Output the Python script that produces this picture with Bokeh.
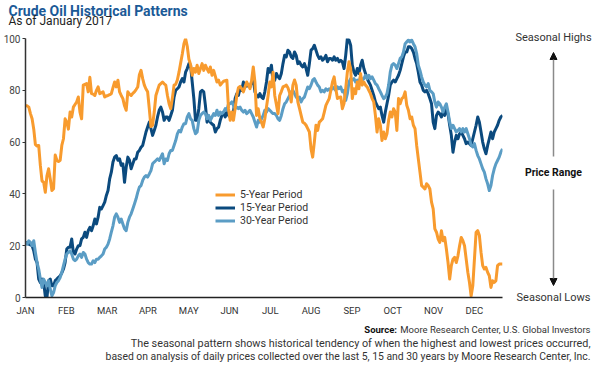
from bokeh.plotting import figure
from bokeh.models import (Range1d, Arrow, NormalHead, Legend, LegendItem,
                          FixedTicker)
from bokeh.layouts import column, row
from bokeh.core.properties import value
from bokeh.embed import file_html
from bokeh.resources import INLINE

# ---------------- data ----------------
month_labels = ["JAN", "FEB", "MAR", "APR", "MAY", "JUN",
                "JUL", "AUG", "SEP", "OCT", "NOV", "DEC"]
month_positions = list(range(12))          # month starts, in months
y_ticks = [0, 20, 40, 60, 80, 100]
SAMPLE_STEP = 5 / 123.6                     # months between two readings

five_year = [
    74, 74, 73.5, 71, 69, 65, 59, 58.5, 58.7, 51,
    45, 44.5, 40.6, 47, 49.7, 45.8, 41.3, 42, 55, 53,
    52.5, 53, 58.7, 61.3, 69, 67.7, 65, 71.6, 69.7, 73.5,
    74.5, 75.5, 77.4, 71.6, 69, 82, 82.3, 82.6, 79.4, 85,
    78.7, 78.5, 78, 80, 81.3, 78.7, 79, 79.4, 77.4, 77.8,
    78, 78.3, 78.7, 81, 83.2, 81.3, 83.9, 79.4, 78, 76.8,
    74, 72.3, 79.4, 78.5, 78, 78.8, 79.4, 80.3, 81.3, 86,
    87.7, 84.5, 82, 80.5, 79.4, 72.9, 66, 66.5, 71.6, 78,
    80, 82, 82.6, 83.2, 82.5, 82, 78, 74.8, 72.9, 77,
    82, 82.3, 84, 87, 90.5, 94, 98, 100, 97, 92,
    90, 85.8, 88.4, 87, 89.7, 86.5, 88.4, 90.3, 87.7, 89.7,
    88.3, 87, 89, 85.8, 87.7, 85.5, 83.2, 83.9, 82, 82.8,
    83.5, 83.7, 83.9, 72.9, 68.4, 71.6, 68.4, 73, 78, 81,
    81.5, 80.6, 79.4, 81.3, 83.2, 82, 80.6, 83.9, 89, 83.2,
    70.3, 72.9, 69, 67.7, 65.8, 69, 73.5, 78, 83.2, 81.3,
    87, 78, 74.5, 71, 78, 79.5, 81.3, 81.6, 82, 81,
    79, 75.5, 82, 84, 82, 75.5, 73, 70.3, 67.7, 67.3,
    66.5, 65.2, 63.9, 57.4, 54.2, 60, 66.5, 64.5, 67.7, 68.3,
    69, 71.5, 74.2, 75.5, 76.8, 80, 83.2, 85.2, 80.6, 76.8,
    77.2, 77.4, 72.9, 75, 80.6, 87, 91, 88.4, 76.8, 80.6,
    78.7, 83.2, 80.6, 86.5, 82, 83.2, 82, 81.3, 80, 78.7,
    76.8, 75.5, 70.3, 63.9, 69, 66.5, 60.6, 63.9, 61.3, 63.2,
    68.4, 71.6, 69.7, 72.9, 71.6, 64.5, 76.8, 74.8, 76.8, 77.4,
    79.4, 74.2, 72.3, 69, 69.7, 66.5, 65.2, 58.7, 53.5, 48.4,
    43.2, 42.6, 41.9, 43.9, 43.2, 41.9, 36.8, 34.2, 26.5, 25.2,
    22.6, 21.3, 25.8, 21.9, 23.2, 18.7, 13.5, 7.1, 12.3, 14.8,
    15.5, 13.5, 16.1, 20, 23.2, 21.9, 20, 14.8, 9.7, 5.8,
    0.6, 4.5, 14.8, 25.2, 25.8, 23.9, 17.4, 12.3, 11, 11.6,
    9.7, 8.4, 3.9, 6.5, 5.8, 6.5, 12.3, 12.9, 12.9, 12.9,
]

fifteen_year = [
    21.3, 21, 20.6, 20.3, 20, 18, 14.8, 13.5, 7.1, 5.8,
    7.1, 5.8, 0.6, 0, 6.5, 7.1, 4.5, 4.5, 6.5, 7.1,
    7.8, 8.4, 9.5, 11, 13.5, 18.7, 19.4, 19.4, 22.6, 17.4,
    16.8, 18.7, 20, 20, 22.6, 23.2, 25.2, 23.2, 25.8, 27.1,
    25.8, 27.7, 30.3, 28.4, 31, 34.8, 34.2, 35.5, 36.8, 39.4,
    41.3, 45.8, 48.4, 52.3, 54.2, 54.8, 53, 53.5, 51, 51.6,
    44.5, 50.3, 54.2, 53, 49.7, 51.6, 53.5, 53.5, 56.1, 56.8,
    58, 58.7, 61.3, 63.9, 65.8, 67.7, 65.2, 62.6, 64.5, 66.5,
    69.7, 72.3, 73.5, 71.6, 68.4, 69.7, 69.7, 68.4, 70.3, 72.3,
    77.4, 80, 80.6, 81.3, 83.2, 84.5, 83.2, 87, 88.4, 90.3,
    89.7, 83.2, 76.8, 68.4, 68.4, 72.9, 79.4, 80, 79.4, 74.2,
    67.7, 69, 67.7, 67, 66.5, 63.9, 65.2, 65.8, 68.4, 70.3,
    71.6, 69.7, 71.6, 70.3, 69.7, 70.5, 71.6, 76.8, 78.7, 78,
    80.6, 80, 83.2, 81.3, 82, 81.6, 81.3, 83.2, 84.5, 79.4,
    78, 77.4, 78.7, 77.4, 76.8, 79.4, 83.2, 88.4, 87, 89.7,
    83.2, 83.9, 86.5, 85.2, 84.5, 86.5, 90.3, 93.5, 92.9, 95.5,
    94.8, 92.9, 92.3, 94.8, 93.5, 90.3, 91, 89.7, 89, 90.3,
    88.4, 85.8, 90.3, 95.5, 96.1, 97.4, 95.5, 93.5, 92.3, 92.9,
    91.6, 92.3, 93.5, 91, 92.3, 92.3, 91.6, 92.9, 91.6, 92.3,
    91, 91.6, 91, 88.4, 93.5, 100, 99.4, 97.4, 89.7, 87,
    85.8, 88.4, 86.5, 89.7, 91.6, 88.4, 86.5, 84.5, 83.2, 82,
    80, 78, 75.5, 74.2, 72.9, 73.5, 70.3, 67.7, 71.6, 74.8,
    78, 82, 83.2, 83.9, 83.2, 84.5, 85.8, 87.7, 90.3, 92.9,
    94.8, 94.8, 96.8, 96.8, 96.1, 94.8, 92.3, 90.3, 87, 83.2,
    82, 80, 79.4, 80, 78.7, 76.8, 74.8, 67.7, 65.2, 70.3,
    71.6, 70.9, 69.7, 71.6, 70.3, 72.9, 70.9, 66.5, 62.6, 56.1,
    60, 62.6, 61.3, 63.2, 63.9, 62.6, 61.3, 59.4, 60, 59.4,
    58.7, 61.3, 63.9, 66.5, 69.7, 67.7, 63.9, 60, 57.4, 55.5,
    58.7, 61.3, 63.9, 61.3, 63.9, 65.2, 66.5, 68.4, 69.7, 70.3,
]

thirty_year = [
    21.3, 20.6, 21.9, 21.3, 20, 21.9, 17.4, 13.5, 11, 7.1,
    3.9, 7.1, 5.8, 4.5, 6.5, 3.2, 0.6, 1.9, 4.5, 5.8,
    6.5, 7.7, 9.7, 12.3, 14.8, 16.8, 17.4, 18, 16.8, 14.8,
    14.2, 14.8, 16.1, 16.8, 15.5, 17.4, 16.8, 14.8, 13.5, 12.9,
    12.9, 14.2, 13.5, 14.8, 14.8, 15.5, 16.1, 16.8, 18.7, 19.4,
    20.6, 22.6, 25.2, 27.7, 31, 32.3, 31, 29, 30.3, 28.4,
    26.5, 25.8, 29, 31, 32.3, 34.2, 36.1, 38.1, 40.6, 42.6,
    43.2, 45.2, 46.5, 47.1, 46.5, 47.7, 49, 51.6, 52.3, 52.9,
    53.5, 52.9, 54.2, 55.5, 51.6, 53.5, 52.9, 55.5, 56.8, 56.8,
    58.7, 60.6, 63.2, 64.5, 63.9, 65.8, 67.1, 67.1, 69.7, 71,
    69, 68.4, 65.2, 63.2, 63.9, 68.4, 70.3, 71, 71.6, 71,
    69, 70.3, 68.4, 69.7, 71, 70.3, 72.3, 70.3, 71.6, 71,
    71.6, 72.9, 72.3, 74.8, 74.8, 75.5, 74.2, 72.9, 73.5, 72.9,
    73.5, 72.3, 71.6, 72.3, 71, 71.6, 72.3, 71, 69.7, 67.7,
    65.8, 68.4, 67.7, 69, 70.3, 72.3, 71.6, 72.9, 72.3, 71.6,
    71, 71, 70.3, 69, 68.4, 70.3, 72.9, 74.8, 75.5, 76.8,
    78, 79.4, 80, 78.7, 77.4, 76.8, 77.4, 75.5, 76.8, 77.4,
    79.4, 81.3, 80.6, 82, 83.9, 84.5, 83.2, 82, 81.3, 79.4,
    80, 79.4, 80.6, 80, 80.6, 80, 81.3, 80.6, 80, 81.3,
    80.6, 81.3, 79.4, 80, 76.1, 78.7, 83.2, 84.5, 83.9, 84.5,
    83.2, 83.9, 83.2, 85.2, 83.9, 84.5, 85.8, 84.5, 85.8, 84.5,
    85.2, 83.9, 82.6, 82, 80.6, 79.4, 78, 76.8, 77.4, 78.7,
    82, 87, 89.7, 90.3, 89.7, 88.4, 90.3, 92.3, 92.9, 94.8,
    98, 98.7, 99.4, 98.7, 99.4, 98, 96.8, 94.2, 89.7, 87.7,
    85.2, 83.2, 82, 81.3, 82.6, 80, 79.4, 78.7, 75.5, 73.5,
    75.5, 74.8, 73.5, 71.6, 73.5, 74.8, 71.6, 67.7, 65.2, 66.5,
    65.2, 63.9, 64.5, 65.2, 63.9, 65.2, 63.9, 65.2, 63.2, 61.3,
    58.7, 58.1, 59.4, 56.8, 54.8, 53.5, 51.6, 49.7, 48.4, 45.8,
    43.9, 41.3, 43.2, 47.1, 49.7, 51.6, 52.9, 54.2, 56.1, 57.4,
]

x = [i * SAMPLE_STEP for i in range(len(five_year))]

# ---------------- styling ----------------
ORANGE = "#F89B2E"
NAVY = "#0B4A7E"
SKY = "#5B9DC5"
TITLE_BLUE = "#1B5A97"
FONT = "Roboto"
W = 592
MAIN_W = 505
TOP_H, MID_H, BOT_H = 30, 288, 44


def blank(width, height, x0, x1, y_top, y_bottom):
    """A frameless figure whose data units are pixels (y grows downward)."""
    f = figure(width=width, height=height, output_backend="svg",
               toolbar_location=None, title=None,
               x_axis_location=None, y_axis_location=None,
               x_range=Range1d(x0, x1), y_range=Range1d(y_bottom, y_top),
               min_border=0, min_border_left=0, min_border_right=0,
               min_border_top=0, min_border_bottom=0, frame_align=False)
    f.outline_line_color = None
    f.grid.visible = False
    f.background_fill_color = "white"
    f.border_fill_color = "white"
    return f


def txt(f, text, x0, y0, size, align="left", baseline="middle", bold=False,
        color="#333333"):
    f.text(x=[x0], y=[y0], text=[text], text_font=value(FONT),
           text_font_size=size, text_align=align, text_baseline=baseline,
           text_color=color, text_font_style="bold" if bold else "normal")


# ---------------- title strip ----------------
top = blank(W, TOP_H, 0, W, 0, TOP_H)
txt(top, "Crude Oil Historical Patterns", 8, 10, "14px", bold=True,
    color=TITLE_BLUE)
txt(top, "As of January 2017", 8, 20.5, "12px", color="#222222")

# ---------------- main chart ----------------
p = figure(width=MAIN_W, height=MID_H, output_backend="svg",
           toolbar_location=None, title=None,
           x_range=Range1d(0, x[-1]), y_range=Range1d(0, 100),
           min_border_left=22, min_border_right=3, min_border_top=8,
           min_border_bottom=20, frame_align=False)
p.outline_line_color = None
p.xgrid.visible = False
p.ygrid.visible = False
p.background_fill_color = "white"
p.border_fill_color = "white"

xa = p.xaxis[0]
xa.ticker = FixedTicker(ticks=month_positions)
xa.major_label_overrides = {i: lab for i, lab in zip(month_positions, month_labels)}
xa.major_tick_line_color = None
xa.major_tick_in = 0
xa.major_tick_out = 0
xa.minor_tick_line_color = None
xa.minor_tick_in = 0
xa.minor_tick_out = 0
xa.axis_line_color = "#222222"
xa.axis_line_width = 1.5
xa.major_label_text_font = FONT
xa.major_label_text_font_size = "9.5px"
xa.major_label_text_color = "#333333"
xa.major_label_standoff = 7

ya = p.yaxis[0]
ya.ticker = FixedTicker(ticks=y_ticks)
ya.minor_tick_line_color = None
ya.minor_tick_in = 0
ya.minor_tick_out = 0
ya.major_tick_in = 0
ya.major_tick_out = 3
ya.major_tick_line_color = "#333333"
ya.axis_line_color = "#333333"
ya.axis_line_width = 1.5
ya.major_label_text_font = FONT
ya.major_label_text_font_size = "10px"
ya.major_label_text_color = "#444444"
ya.major_label_standoff = 2

r15 = p.line(x, fifteen_year, line_color=NAVY, line_width=3, line_join="round")
r30 = p.line(x, thirty_year, line_color=SKY, line_width=3, line_join="round")
r5 = p.line(x, five_year, line_color=ORANGE, line_width=3, line_join="round")

legend = Legend(items=[LegendItem(label="5-Year Period", renderers=[r5]),
                       LegendItem(label="15-Year Period", renderers=[r15]),
                       LegendItem(label="30-Year Period", renderers=[r30])],
                location=(190, 70.5), orientation="vertical",
                label_text_font=FONT, label_text_font_size="10.5px",
                label_text_color="#333333", glyph_width=20, glyph_height=13,
                label_height=13, label_standoff=5, spacing=0, padding=0,
                margin=0, border_line_color=None, background_fill_alpha=0)
p.add_layout(legend)

# ---------------- right-hand price range guide ----------------
side = blank(W - MAIN_W, MID_H, MAIN_W, W, TOP_H, TOP_H + MID_H)
txt(side, "Seasonal Highs", 553, 37, "11px", align="center")
txt(side, "Price Range", 553, 172, "10.5px", align="center", bold=True,
    color="#111111")
txt(side, "Seasonal Lows", 553, 297, "11px", align="center")
for ys, ye in ((156, 52), (189, 285)):
    side.add_layout(Arrow(end=NormalHead(size=7, fill_color="#111111",
                                         line_color="#111111"),
                          x_start=553, y_start=ys, x_end=553, y_end=ye,
                          line_color="#8a8a8a", line_width=1.5))

# ---------------- source notes ----------------
y0 = TOP_H + MID_H
bottom = blank(W, BOT_H, 0, W, y0, y0 + BOT_H)
txt(bottom, "Moore Research Center, U.S. Global Investors", 590, 329, "9.5px",
    align="right")
txt(bottom, "Source:", 396.5, 329, "9.5px", align="right", bold=True,
    color="#111111")
txt(bottom, "The seasonal pattern shows historical tendency of when the highest and lowest prices occurred,",
    590, 342.5, "10.8px", align="right")
txt(bottom, "based on analysis of daily prices collected over the last 5, 15 and 30 years by Moore Research Center, Inc.",
    590, 355.5, "10.4px", align="right")

layout = column(top, row(p, side), bottom)
open("out.html", "w").write(file_html(layout, INLINE))
